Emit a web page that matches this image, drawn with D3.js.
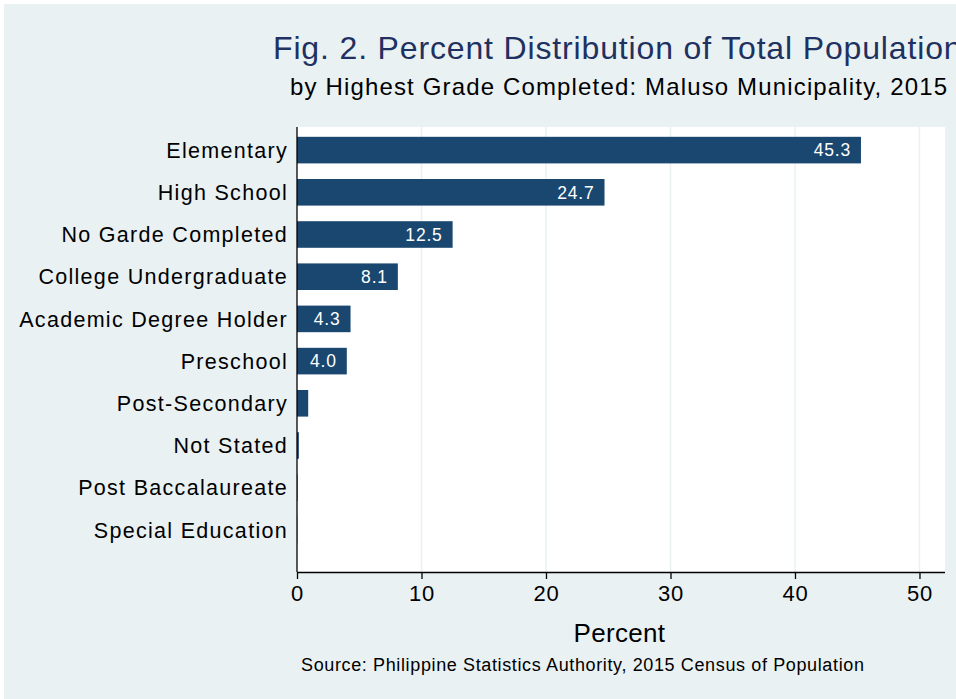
<!DOCTYPE html>
<html>
<head>
<meta charset="utf-8">
<script src="https://cdn.jsdelivr.net/npm/d3@7"></script>
<style>
  body { margin: 0; background: #fff; }
  text { font-family: "Liberation Sans", Arial, sans-serif; }
</style>
</head>
<body>
<div id="canvas"></div>
<script>
const categories = ["Elementary", "High School", "No Garde Completed", "College Undergraduate",
    "Academic Degree Holder", "Preschool", "Post-Secondary", "Not Stated",
    "Post Baccalaureate", "Special Education"];
const percents = [45.3, 24.7, 12.5, 8.1, 4.3, 4.0, 0.9, 0.15, 0.04, 0.02];
const shownLabels = ["45.3", "24.7", "12.5", "8.1", "4.3", "4.0", "", "", "", ""];
const xTicks = [0, 10, 20, 30, 40, 50];

const data = categories.map((c, i) => ({ name: c, value: percents[i], label: shownLabels[i] }));

const width = 956;
const height = 699;
const margin = { top: 127, left: 297, bottom: 127, right: 11 };
const iwidth = width - margin.left - margin.right;
const iheight = height - margin.top - margin.bottom;

const svg = d3.select("#canvas").append("svg")
    .attr("width", width)
    .attr("height", height);

// outer background
svg.append("rect")
    .attr("x", 4).attr("y", 4)
    .attr("width", width - 4).attr("height", height - 4)
    .attr("fill", "#eaf1f3");

// titles
svg.append("text")
    .attr("x", 273).attr("y", 59)
    .attr("font-size", 32)
    .attr("letter-spacing", 0.85)
    .attr("fill", "#1e3160")
    .text("Fig. 2. Percent Distribution of Total Population");

svg.append("text")
    .attr("x", 290).attr("y", 95)
    .attr("font-size", 24)
    .attr("letter-spacing", 1.15)
    .attr("fill", "#000")
    .text("by Highest Grade Completed: Maluso Municipality, 2015");

let g = svg.append("g").attr("transform", `translate(${margin.left},${margin.top})`);

g.append("rect")
    .attr("width", iwidth)
    .attr("height", iheight)
    .attr("fill", "#fff");

let x = d3.scaleLinear()
    .domain([0, 52.05])
    .range([0, iwidth]);

let y = d3.scaleBand()
    .domain(categories)
    .range([2, 424])
    .paddingInner(0.37)
    .paddingOuter(0.185);

// grid
g.selectAll(".grid")
    .data(xTicks.filter(d => d > 0))
    .enter().append("line")
    .attr("class", "grid")
    .attr("x1", d => x(d)).attr("x2", d => x(d))
    .attr("y1", 0).attr("y2", iheight)
    .attr("stroke", "#eaf1f3")
    .attr("stroke-width", 1.5);

g.selectAll(".bar")
    .data(data)
    .enter().append("rect")
    .attr("class", "bar")
    .style("fill", "#1a476f")
    .attr("x", 0)
    .attr("y", d => y(d.name))
    .attr("width", d => x(d.value))
    .attr("height", y.bandwidth());

g.selectAll(".lbl")
    .data(data.filter(d => d.label !== ""))
    .enter().append("text")
    .attr("class", "lbl")
    .attr("x", d => x(d.value) - 10)
    .attr("y", d => y(d.name) + y.bandwidth() / 2)
    .attr("dy", "0.36em")
    .attr("text-anchor", "end")
    .attr("font-size", 17.5)
    .attr("letter-spacing", 0.8)
    .attr("fill", "#fff")
    .text(d => d.label);

// category labels
g.selectAll(".cat")
    .data(categories)
    .enter().append("text")
    .attr("class", "cat")
    .attr("x", -9)
    .attr("y", d => y(d) + y.bandwidth() / 2)
    .attr("dy", "0.36em")
    .attr("text-anchor", "end")
    .attr("font-size", 21.5)
    .attr("letter-spacing", 1.3)
    .attr("fill", "#000")
    .text(d => d);

// axes lines
g.append("line")
    .attr("x1", 0).attr("x2", 0)
    .attr("y1", 0).attr("y2", iheight)
    .attr("stroke", "#000").attr("stroke-width", 1.3);

let xAxis = g.append("g")
    .attr("transform", `translate(0, ${iheight})`)
    .call(d3.axisBottom(x).tickValues(xTicks).tickSize(7).tickPadding(6));
xAxis.select(".domain").attr("d", `M0,0.5H${iwidth}`).attr("stroke-width", 1.3);
xAxis.selectAll(".tick line").attr("stroke-width", 1.3);
xAxis.selectAll(".tick text")
    .attr("font-size", 22)
    .attr("letter-spacing", 0.8)
    .attr("fill", "#000");

svg.append("text")
    .attr("x", margin.left + x(25.9))
    .attr("y", 642)
    .attr("text-anchor", "middle")
    .attr("font-size", 26)
    .attr("letter-spacing", 0.3)
    .text("Percent");

svg.append("text")
    .attr("x", 301)
    .attr("y", 671)
    .attr("font-size", 18)
    .attr("letter-spacing", 0.63)
    .text("Source: Philippine Statistics Authority, 2015 Census of Population");
</script>
</body>
</html>
